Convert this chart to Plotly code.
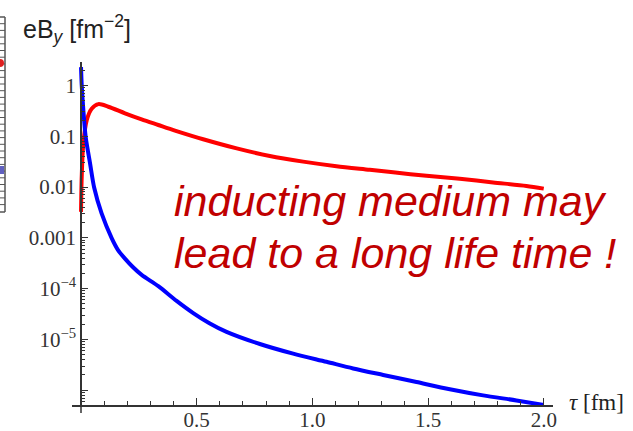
import plotly.graph_objects as go

# Proper time tau [fm] and field strength eB_y [fm^-2]
tau_medium = [0.0, 0.003, 0.01, 0.025, 0.046, 0.075, 0.118, 0.19, 0.262, 0.334, 0.406,
              0.528, 0.673, 0.816, 0.96, 1.104, 1.248, 1.349, 1.493, 1.637, 1.781, 1.925, 2.0]
eBy_medium = [0.00324, 0.0158, 0.0724, 0.209, 0.347, 0.427, 0.380, 0.282, 0.214, 0.166, 0.129,
              0.0871, 0.0575, 0.0407, 0.0316, 0.0257, 0.0219, 0.0195, 0.0166, 0.0145, 0.0123,
              0.0105, 0.0093]

tau_vacuum = [0.0, 0.003, 0.01, 0.02, 0.039, 0.057, 0.089, 0.133, 0.16, 0.19, 0.225, 0.262,
              0.334, 0.413, 0.485, 0.555, 0.629, 0.773, 0.917, 1.061, 1.176, 1.306, 1.45,
              1.594, 1.738, 1.882, 2.0]
eBy_vacuum = [2.29, 1.01, 0.327, 0.0973, 0.0292, 0.00964, 0.00302, 0.000977, 0.000575,
              0.000389, 0.000263, 0.000186, 0.000112, 5.75e-5, 3.31e-5, 2.09e-5, 1.41e-5,
              8.13e-6, 5.25e-6, 3.63e-6, 2.69e-6, 2.0e-6, 1.45e-6, 1.05e-6, 7.94e-7,
              6.31e-7, 5.13e-7]

x_tick_vals = [0.5, 1.0, 1.5, 2.0]
x_tick_text = ["0.5", "1.0", "1.5", "2.0"]
x_minor_vals = [0.1, 0.2, 0.3, 0.4, 0.6, 0.7, 0.8, 0.9, 1.1, 1.2, 1.3, 1.4,
                1.6, 1.7, 1.8, 1.9]
y_tick_vals = [1e-6, 1e-5, 1e-4, 1e-3, 1e-2, 1e-1, 1]
y_tick_text = ["", "10<sup>\u22125</sup>", "10<sup>\u22124</sup>", "0.001", "0.01", "0.1", "1"]
y_minor_vals = [m * 10.0 ** k for k in range(-7, 1) for m in range(2, 10)]

W, H = 633, 431
L, R, T, B = 72, 553, 62, 405


def px(x):
    return (x - L) / (R - L)


def py(y):
    return (B - y) / (B - T)


fig = go.Figure()
fig.add_trace(go.Scatter(x=tau_medium, y=eBy_medium, mode="lines",
                         line=dict(color="#ff0000", width=4, shape="spline", smoothing=0.8),
                         hoverinfo="skip"))
fig.add_trace(go.Scatter(x=tau_vacuum, y=eBy_vacuum, mode="lines",
                         line=dict(color="#0000ff", width=4, shape="spline", smoothing=0.8),
                         hoverinfo="skip"))

tick_font = dict(family="Liberation Serif", size=21, color="#333333")

fig.update_layout(
    width=W, height=H,
    margin=dict(l=L, r=W - R, t=T, b=H - B, pad=0, autoexpand=False),
    paper_bgcolor="white", plot_bgcolor="white",
    showlegend=False,
    xaxis=dict(range=[-0.039, 2.04], domain=[0, 1], showgrid=False, zeroline=False,
               automargin=False,
               showline=True, linecolor="#333333", linewidth=1.5,
               tickmode="array", tickvals=x_tick_vals, ticktext=x_tick_text,
               ticks="inside", ticklen=7, tickwidth=1.2, tickcolor="#333333",
               tickfont=tick_font, ticklabelstandoff=-5,
               minor=dict(tickmode="array", tickvals=x_minor_vals, ticks="inside",
                          ticklen=4, tickwidth=1, tickcolor="#333333", showgrid=False)),
    yaxis=dict(type="log", range=[-6.29, 0.46], showgrid=False, zeroline=False,
               automargin=False,
               anchor="free", position=px(81), side="left",
               showline=True, linecolor="#333333", linewidth=1.5,
               tickmode="array", tickvals=y_tick_vals, ticktext=y_tick_text,
               ticks="inside", ticklen=6, tickwidth=1.2, tickcolor="#333333",
               tickfont=tick_font,
               minor=dict(tickmode="array", tickvals=y_minor_vals, ticks="inside",
                          ticklen=3, tickwidth=1, tickcolor="#333333", showgrid=False)),
)

# short stub of the vertical axis below the horizontal one
fig.add_shape(type="line", xref="paper", yref="paper", x0=px(81), x1=px(81),
              y0=py(413), y1=py(405), line=dict(color="#333333", width=1.5))

# fragment of a neighbouring frame at the left edge
fig.add_shape(type="line", xref="paper", yref="paper", x0=px(5), x1=px(5),
              y0=py(212), y1=py(17), line=dict(color="#555555", width=1.5))
fig.add_shape(type="line", xref="paper", yref="paper", x0=px(0), x1=px(5),
              y0=py(212), y1=py(212), line=dict(color="#555555", width=1.5))
fig.add_shape(type="line", xref="paper", yref="paper", x0=px(0), x1=px(5),
              y0=py(17), y1=py(17), line=dict(color="#555555", width=1.5))
yy = 23.7
while yy < 210:
    fig.add_shape(type="line", xref="paper", yref="paper", x0=px(0), x1=px(5),
                  y0=py(yy), y1=py(yy), line=dict(color="#555555", width=1))
    yy += 6.7
fig.add_shape(type="circle", xref="paper", yref="paper", x0=px(-4), x1=px(4),
              y0=py(67), y1=py(59), fillcolor="#e02020", line=dict(width=0))
fig.add_shape(type="rect", xref="paper", yref="paper", x0=px(0), x1=px(4),
              y0=py(174), y1=py(166), fillcolor="#6060c0", line=dict(width=0))

annotations = [
    dict(text="eB<sub><i>y</i></sub> [fm<sup>\u22122</sup>]", x=px(21), y=py(29),
         xanchor="left", yanchor="middle",
         font=dict(family="Liberation Sans", size=25, color="#222222")),
    dict(text="<i>\u03c4</i> [fm]", x=px(567), y=py(402), xanchor="left", yanchor="middle",
         font=dict(family="Liberation Serif", size=23, color="#222222")),
    dict(text="<i>inducting medium may</i>", x=px(172), y=py(201), xanchor="left",
         yanchor="middle", font=dict(family="Liberation Sans", size=43, color="#c00000")),
    dict(text="<i>lead to a long life time !</i>", x=px(172), y=py(253), xanchor="left",
         yanchor="middle", font=dict(family="Liberation Sans", size=43, color="#c00000")),
]
for a in annotations:
    fig.add_annotation(xref="paper", yref="paper", showarrow=False, **a)

fig.write_html("out.html")
